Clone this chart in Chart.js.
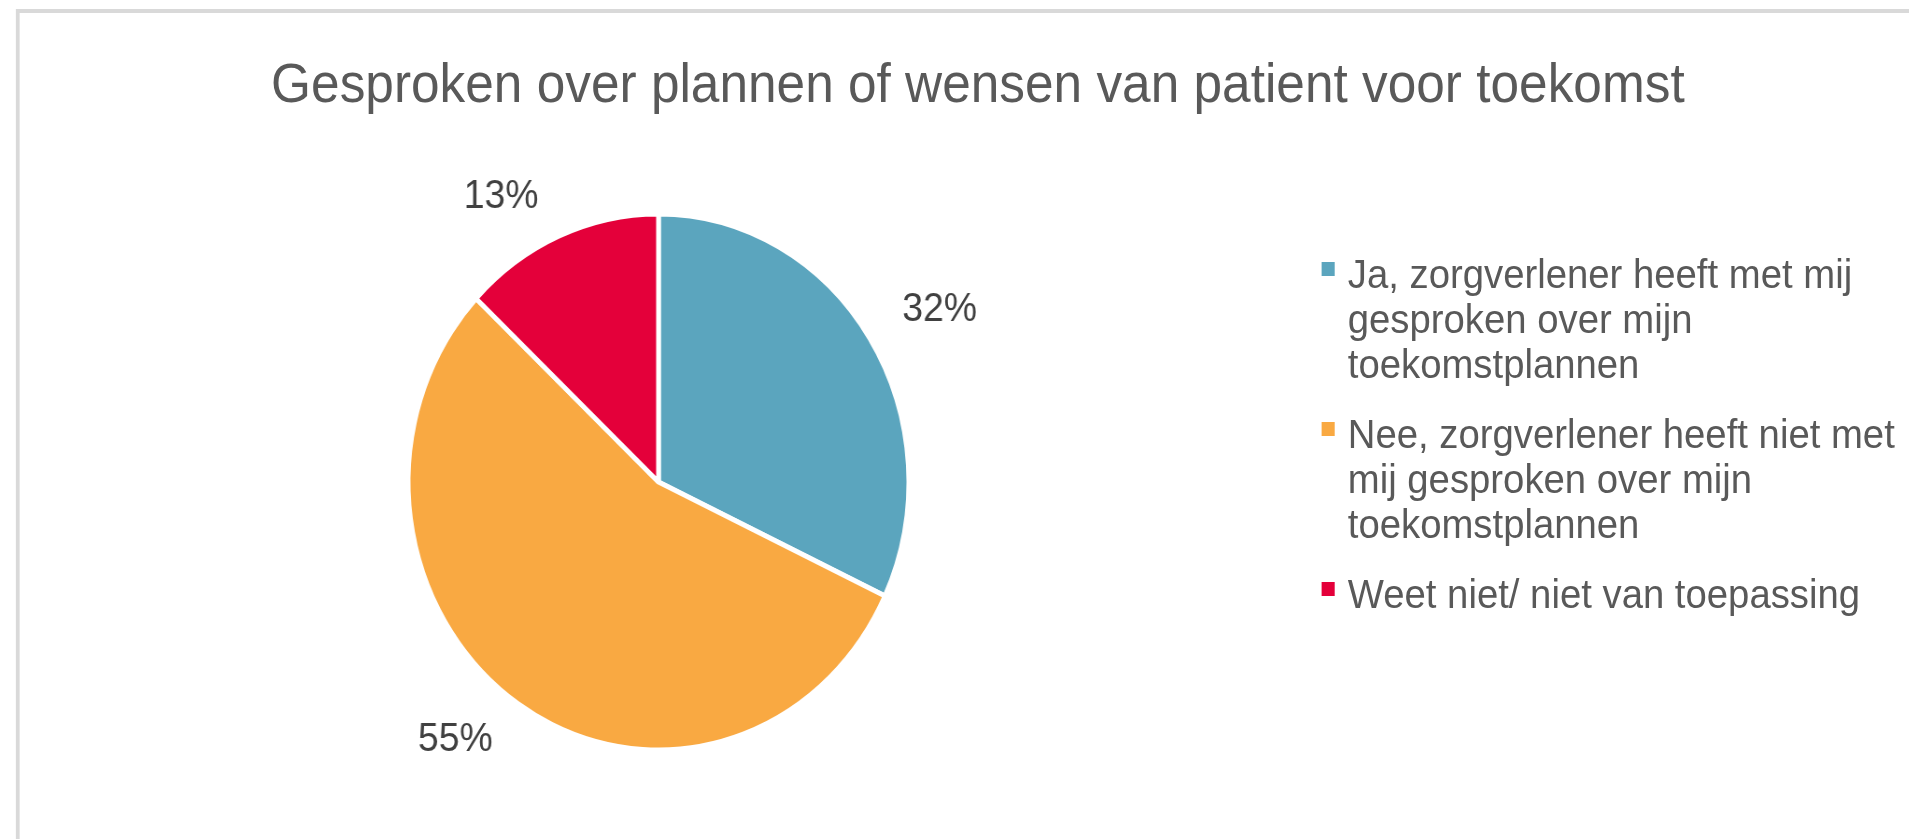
<!DOCTYPE html>
<html>
<head>
<meta charset="utf-8">
<script src="https://cdn.jsdelivr.net/npm/chart.js@4.4.1/dist/chart.umd.min.js"></script>
<style>
    html, body {
        margin: 0;
        padding: 0;
        background: #ffffff;
        overflow: hidden;
    }
    /* the reference is squeezed horizontally, so the page is laid out wider and scaled back */
    .stage {
        position: absolute;
        left: 0;
        top: 0;
        width: 2044px;
        height: 839px;
        transform: scaleX(0.934);
        transform-origin: 0 0;
        font-family: 'Liberation Sans', Arial, sans-serif;
    }
    .frame {
        position: absolute;
        left: 17px;
        top: 9px;
        width: 2100px;
        height: 900px;
        border: 4px solid #d9d9d9;
        box-sizing: border-box;
    }
    .chart-title {
        position: absolute;
        left: 0;
        width: 2094px;
        top: 50px;
        text-align: center;
        font-size: 55px;
        line-height: 66px;
        color: #595959;
        white-space: nowrap;
    }
    .chart-wrapper {
        position: absolute;
        left: 0;
        top: 0;
        width: 1410px;
        height: 839px;
    }
    .legend {
        position: absolute;
        left: 1443px;
        top: 252px;
        width: 610px;
        margin: 0;
        padding: 0;
        list-style: none;
    }
    .legend li {
        position: relative;
        font-size: 41px;
        line-height: 45px;
        color: #595959;
        margin-bottom: 25px;
    }
    .legend .box {
        position: absolute;
        left: -28px;
        top: 10px;
        width: 14px;
        height: 14px;
    }
</style>
</head>
<body>
<div class="stage">
    <div class="frame"></div>
    <div class="chart-title" id="title"></div>
    <div class="chart-wrapper"><canvas id="pie"></canvas></div>
    <ul class="legend" id="legend"></ul>
</div>
<script>
const chartTitle = 'Gesproken over plannen of wensen van patient voor toekomst';
const categories = [
    'Ja, zorgverlener heeft met mij gesproken over mijn toekomstplannen',
    'Nee, zorgverlener heeft niet met mij gesproken over mijn toekomstplannen',
    'Weet niet/ niet van toepassing'
];
const percentages = [32, 55, 13];
const sliceColors = ['#5ba5be', '#f9a942', '#e4003a'];

document.getElementById('title').textContent = chartTitle;

// percentage labels outside the slices, the label corner nearest the pie sits on a circle
const outsideLabels = {
    id: 'outsideLabels',
    afterDatasetsDraw(chart, args, opts) {
        const ctx = chart.ctx;
        const meta = chart.getDatasetMeta(0);
        ctx.save();
        ctx.font = opts.font;
        ctx.fillStyle = opts.color;
        ctx.textAlign = 'center';
        ctx.textBaseline = 'middle';
        meta.data.forEach((arc, i) => {
            const p = arc.getProps(['x', 'y', 'startAngle', 'endAngle', 'outerRadius'], true);
            const text = chart.data.datasets[0].data[i] + '%';
            const mid = (p.startAngle + p.endAngle) / 2;
            const r = p.outerRadius + opts.offset;
            const cx = Math.cos(mid), cy = Math.sin(mid);
            const halfW = ctx.measureText(text).width / 2 + opts.padX;
            const x = p.x + cx * r + Math.sign(cx) * halfW;
            const y = p.y + cy * r + Math.sign(cy) * opts.halfH;
            ctx.fillText(text, x, y);
        });
        ctx.restore();
    }
};

const chart = new Chart(document.getElementById('pie'), {
    type: 'pie',
    data: {
        labels: categories,
        datasets: [{
            data: percentages,
            backgroundColor: sliceColors,
            borderColor: '#ffffff',
            borderWidth: 5,
            radius: 268
        }]
    },
    options: {
        responsive: true,
        maintainAspectRatio: false,
        animation: false,
        layout: {
            padding: { top: 150, bottom: 25, left: 0, right: 0 }
        },
        plugins: {
            legend: { display: false },
            title: { display: false },
            tooltip: { enabled: false },
            outsideLabels: {
                offset: 28,
                padX: 11,
                halfH: 13,
                color: '#404040',
                font: "40px 'Liberation Sans', Arial, sans-serif"
            }
        }
    },
    plugins: [outsideLabels]
});

// html legend, because the labels wrap over several lines
const legendEl = document.getElementById('legend');
categories.forEach((label, i) => {
    const li = document.createElement('li');
    const box = document.createElement('span');
    box.className = 'box';
    box.style.background = sliceColors[i];
    li.appendChild(box);
    li.appendChild(document.createTextNode(label));
    legendEl.appendChild(li);
});
</script>
</body>
</html>
